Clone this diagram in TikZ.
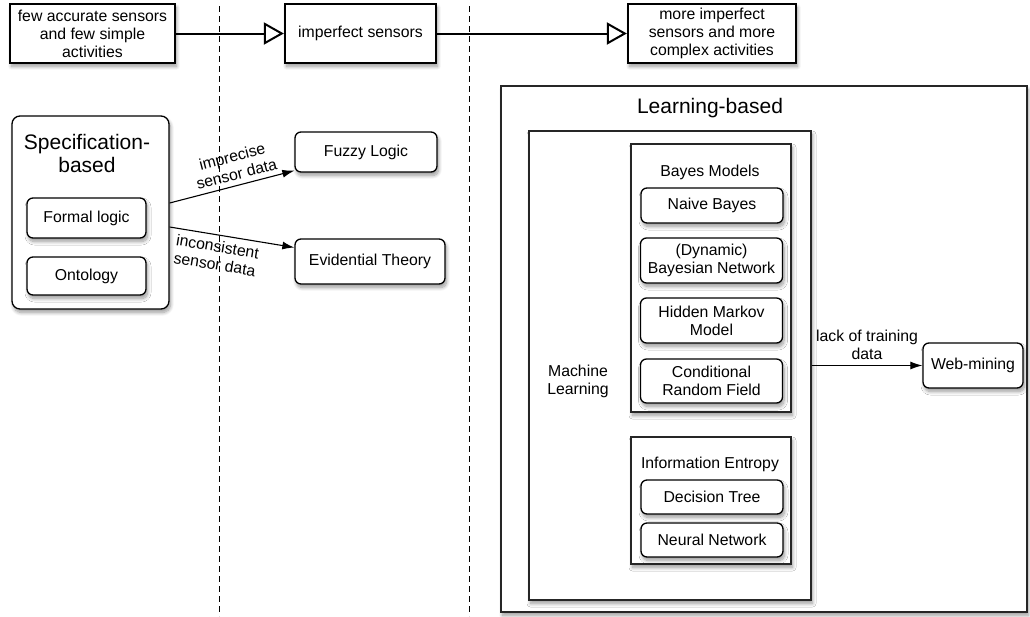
\documentclass[tikz,border=0pt]{standalone}
\usepackage{fontspec}
\setmainfont{Liberation Sans}
\usetikzlibrary{arrows.meta,shadows.blur,calc}

\begin{document}
\begin{tikzpicture}[x=1pt,y=-1pt,
  every node/.style={font=\fontsize{15.8}{18}\selectfont, inner sep=0pt, align=center},
  myshadow/.style={blur shadow={shadow xshift=1.5pt, shadow yshift=-3.5pt, shadow blur radius=3.5pt, shadow opacity=40, shadow blur steps=10}},
  topbox/.style={draw=black, line width=2.3pt, fill=white, minimum height=59pt, myshadow},
  rbox/.style={draw=black, line width=1.3pt, fill=white, rounded corners=6pt, myshadow},
  sqbox/.style={draw=black!85, line width=1.3pt, fill=white, myshadow},
  titletext/.style={font=\fontsize{21}{23}\selectfont, inner sep=2pt},
  subtitle/.style={inner sep=2pt},
  toparrow/.style={line width=2pt, -{Triangle[open, length=20pt, width=22pt, line width=2pt]}},
  sidearrow/.style={line width=1.1pt, -{Latex[length=12pt, width=8pt]}},
  divider/.style={line width=1pt, dash pattern=on 6pt off 4pt}
]
\useasboundingbox (0,0) rectangle (1030,616);

% phase dividers
\coordinate (d1t) at (219,6);
\coordinate (d1b) at (219,616);
\coordinate (d2t) at (469,6);
\coordinate (d2b) at (469,616);
\draw[divider] (d1t) -- (d1b);
\draw[divider] (d2t) -- (d2b);

% top row
\node[topbox, minimum width=165pt] (s1) at (92.5,33.5) {few accurate sensors\\and few simple\\activities};
\node[topbox, minimum width=151pt] (s2) at (360.5,33.5) {imperfect sensors};
\node[topbox, minimum width=168pt] (s3) at (712,33.5) {more imperfect\\sensors and more\\complex activities};
\draw[toparrow] (s1) -- (s2);
\draw[toparrow] (s2) -- (s3);

% specification-based
\node[rbox, rounded corners=8pt, minimum width=157pt, minimum height=193pt] (spec) at (90.5,212.5) {};
\node[titletext] (spect) at (87,153) {Specification-\\based};
\node[rbox, minimum width=119pt, minimum height=40pt] (formal) at (86.5,218) {Formal logic};
\node[rbox, minimum width=119pt, minimum height=38pt] (onto) at (86.5,276) {Ontology};

\node[rbox, minimum width=142pt, minimum height=40pt] (fuzzy) at (366,152) {Fuzzy Logic};
\node[rbox, minimum width=150pt, minimum height=45pt] (evid) at (370,261.5) {Evidential Theory};

\coordinate (a1) at ($(spec.east)+(0,-9.5)$);
\coordinate (a2) at ($(spec.east)+(0,14.5)$);
\draw[sidearrow] (a1) -- node[pos=0.56, sloped, above=5pt] {imprecise\\sensor data} ($(fuzzy.south west)+(0,-2)$);
\draw[sidearrow] (a2) -- node[pos=0.4, sloped, below=5pt] {inconsistent\\sensor data} ($(evid.west)+(0,-14)$);

% learning-based
\node[sqbox, minimum width=526pt, minimum height=526pt] (lb) at (764,349) {};
\node[titletext] (lbt) at (710,108) {Learning-based};
\node[sqbox, minimum width=282pt, minimum height=469pt] (ml) at (670,365.5) {};
\node[subtitle] (mlt) at (578,381) {Machine\\Learning};

\node[sqbox, minimum width=160pt, minimum height=268pt] (bayes) at (711,278) {};
\node[subtitle] (bayest) at (710,172) {Bayes Models};
\node[rbox, minimum width=142pt, minimum height=35pt] (nb) at (712,205.5) {Naive Bayes};
\node[rbox, minimum width=142pt, minimum height=45pt] (dbn) at (711.5,260.5) {(Dynamic)\\Bayesian Network};
\node[rbox, minimum width=142pt, minimum height=45pt] (hmm) at (711.5,320.5) {Hidden Markov\\Model};
\node[rbox, minimum width=142pt, minimum height=44pt] (crf) at (711.5,381) {Conditional\\Random Field};

\node[sqbox, minimum width=160pt, minimum height=127pt] (info) at (711,500.5) {};
\node[subtitle] (infot) at (710,464) {Information Entropy};
\node[rbox, minimum width=142pt, minimum height=34pt] (dt) at (712,497) {Decision Tree};
\node[rbox, minimum width=142pt, minimum height=34pt] (nn) at (712,540) {Neural Network};

\node[rbox, minimum width=100pt, minimum height=45pt] (web) at (973,365.5) {Web-mining};
\draw[sidearrow, line width=1pt] (ml.east) -- node[midway, above=5pt] {lack of training\\data} (web.west);
\end{tikzpicture}
\end{document}
